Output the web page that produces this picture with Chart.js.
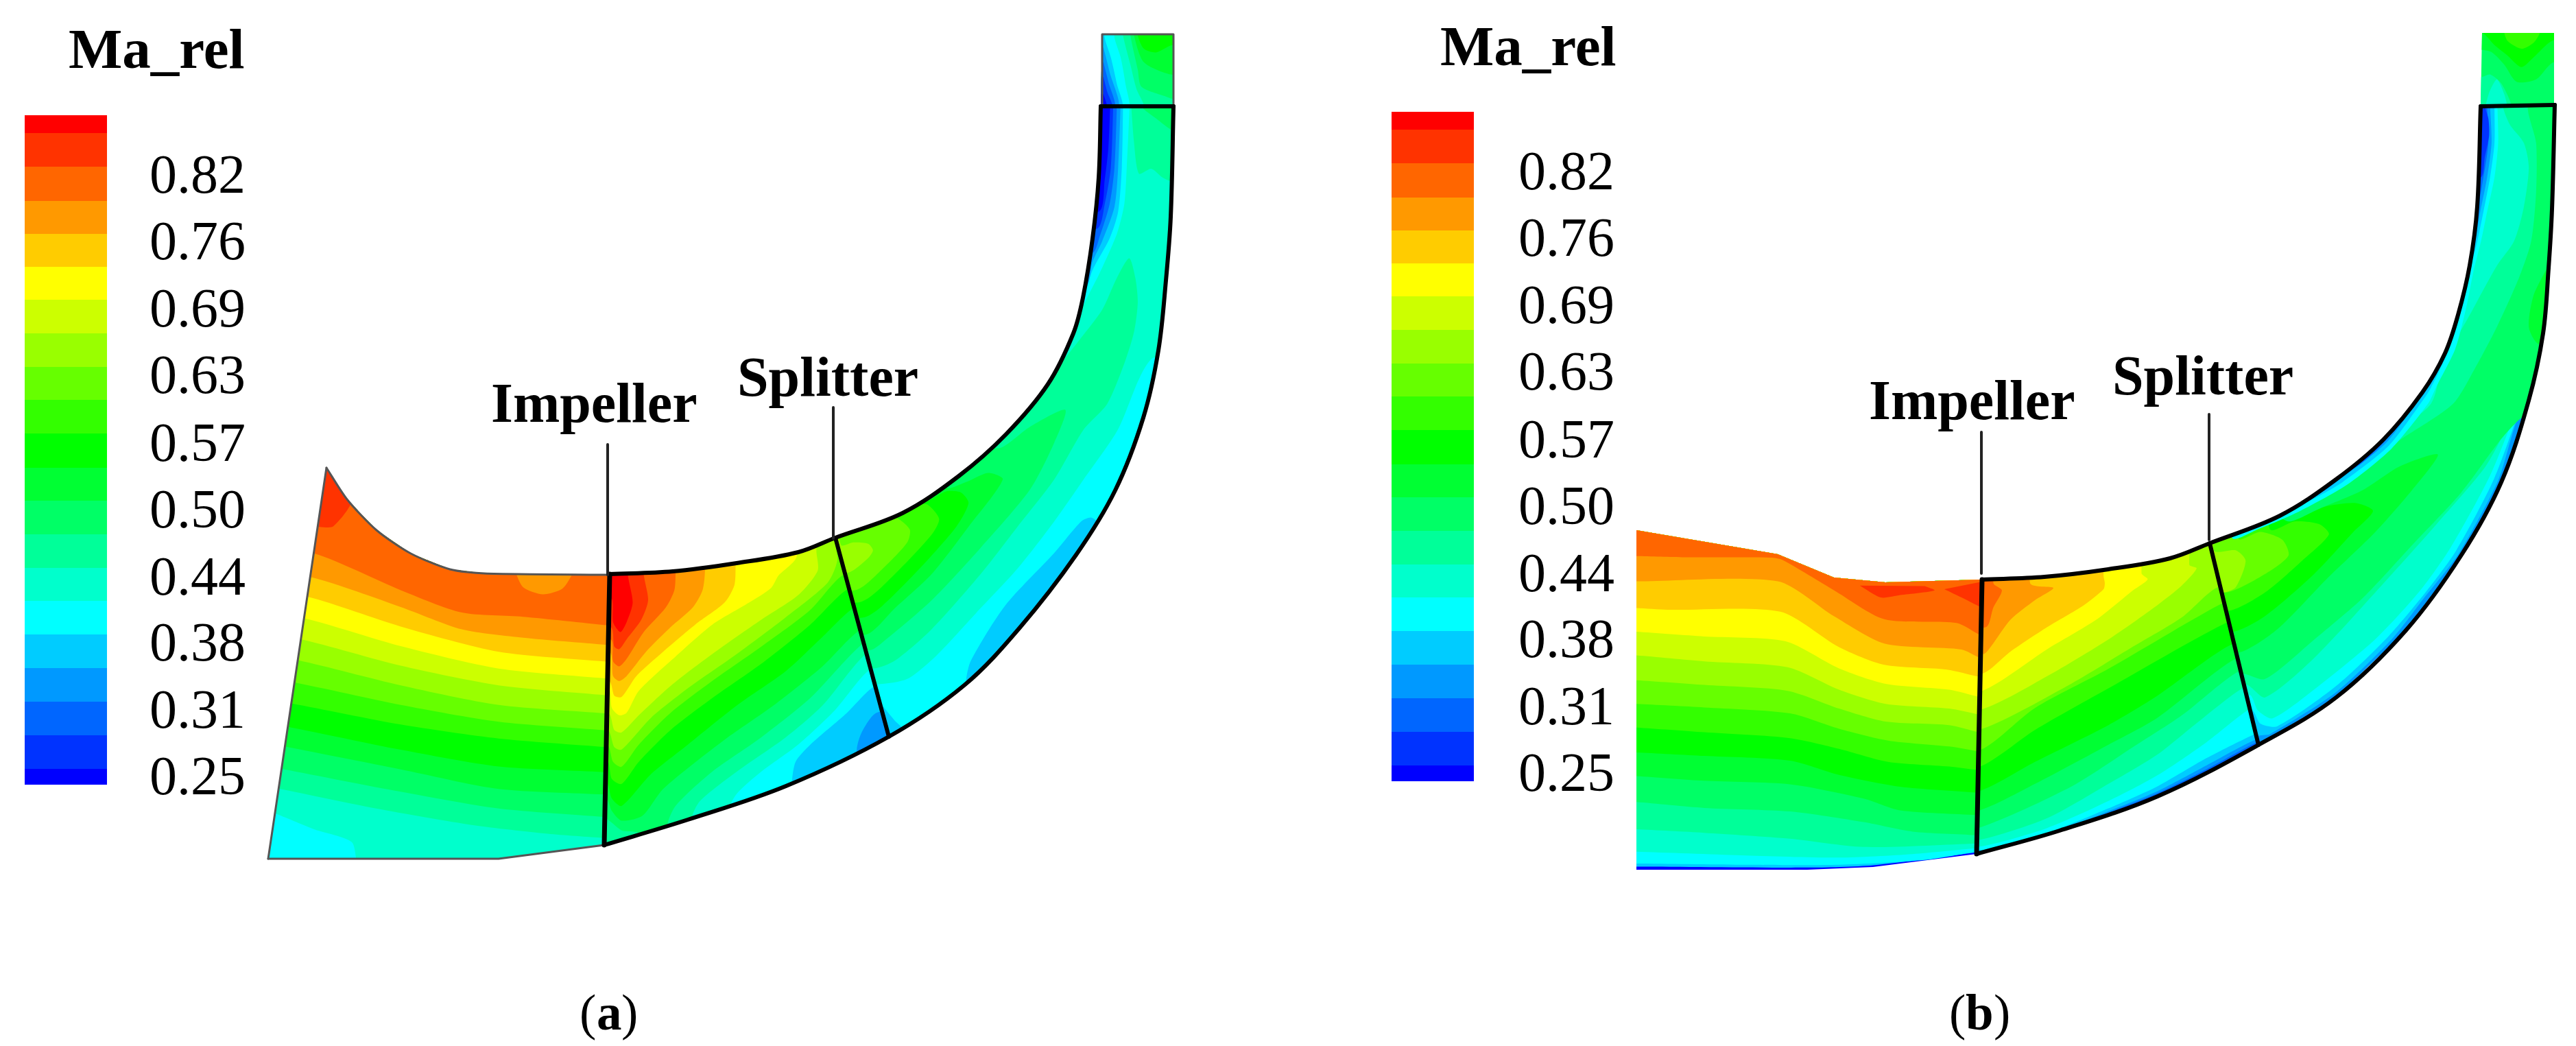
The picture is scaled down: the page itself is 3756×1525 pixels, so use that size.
<!DOCTYPE html>
<html>
<head>
<meta charset="utf-8">
<title>Ma_rel contours</title>
<script src="https://cdn.jsdelivr.net/npm/chart.js@4/dist/chart.umd.js"></script>
<style>
html, body { margin: 0; padding: 0; background: #fff; }
canvas { display: block; }
</style>
</head>
<body>
<canvas id="plot" width="3756" height="1525"></canvas>
<script>
// colour levels of the Ma_rel scale, 0 = blue ... 20 = red
const levels = ["#0000ff","#0033ff","#0066ff","#0099ff","#00ccff","#00ffff","#00ffcc","#00ff99","#00ff66","#00ff33","#00ff00",
    "#33ff00","#66ff00","#99ff00","#ccff00","#ffff00","#ffcc00","#ff9900","#ff6600","#ff3300","#ff0000"];
const tickLabels = ["0.82","0.76","0.69","0.63","0.57","0.50","0.44","0.38","0.31","0.25"];
const tickBaselines = [281,378,476,573,672,769,867,963,1061,1158];
const legendEdges = [168,194,243,293,341,389,437,486,535,583,632,682,730,779,828,876,925,974,1023,1072,1121,1144];

const crops = {
    r: [0,0,1,1],
    z2: [370,640,2.8,2.45],
    z3: [860,700,2.8,2.8],
    z4: [1200,30,2.8,2.8],
    z5: [1180,500,2.8,2.613],
    z6: [2360,740,2.8,2.9],
    z7: [2860,700,2.8,2.8],
    z8: [3180,30,2.8,2.8],
    z9: [3160,500,2.8,2.613],
    nb: [3120,470,2.45,2.45]
};

// geometry of the two meridional sections
const shroudA = [889,837,981,833,1074,821,1164,805,1218,784,1316,748,1398,694,1467,633,1528,560,1565,486,1579,434,1593,348,1602,259,1605,155];
const hubA = [1711,155,1707,316,1700,409,1689,511,1667,609,1626,715,1569,809,1487,915,1406,999,1296,1074,1146,1146,1003,1195,881,1232];
const inletShroudA = [476,682,506,728,549,773,599,807,656,830,706,836,888,838];
const inletHubA = [881,1232,727,1252,391,1252];
const shroudB = [2890,845,2981,841,3074,830,3164,814,3222,792,3324,752,3406,699,3475,641,3532,572,3565,515,3584,459,3601,387,3612,301,3617,155];
const hubB = [3725,153,3721,305,3716,391,3708,486,3687,584,3647,703,3589,809,3508,919,3406,1017,3293,1086,3146,1161,3003,1211,2882,1245];

const inletA = [476,682,506,728,549,773,599,807,656,830,706,836,888,838,881,1232,727,1252,391,1252];
const passageA = [889,837,981,833,1074,821,1164,805,1218,784,1296,1074,1146,1146,1003,1195,881,1232];
const diffuserA = [1218,784,1316,748,1398,694,1467,633,1528,560,1565,486,1579,434,1593,348,1602,259,1605,155,1711,155,1707,316,1700,409,1689,511,1667,609,1626,715,1569,809,1487,915,1406,999,1296,1074];
const outletA = [1607,50,1711,50,1711,155,1605,155];
const inletB = [2386,773,2592,808,2674,842,2749,849,2890,845,2882,1245,2731,1264,2635,1268,2386,1268];
const passageB = [2890,845,2981,841,3074,830,3164,814,3222,792,3293,1086,3146,1161,3003,1211,2882,1245];
const diffuserB = [3222,792,3324,752,3406,699,3475,641,3532,572,3565,515,3584,459,3601,387,3612,301,3617,155,3725,153,3721,305,3716,391,3708,486,3687,584,3647,703,3589,809,3508,919,3406,1017,3293,1086];
const outletB = [3619,48,3724,48,3724,153,3617,155];

// panel a, inlet
const closeInA = ["r",[1100,500,200,500]];
const bandsInletA = [
    [6,"z2",[60,1330,95,1340,250,1395,400,1440,440,1540,1500,1540],...closeInA],
    [7,"z2",[60,1240,110,1250,500,1320,900,1380,1200,1410,1430,1425,1500,1425],...closeInA],
    [8,"z2",[60,1170,125,1180,600,1260,1000,1320,1430,1350,1500,1355],...closeInA],
    [9,"z2",[60,1090,135,1100,600,1180,1000,1250,1430,1270,1500,1275],...closeInA],
    [10,"z2",[60,1020,150,1030,600,1110,1000,1170,1430,1190,1500,1195],...closeInA],
    [11,"z2",[60,935,155,945,600,1020,1000,1070,1430,1100,1500,1105],...closeInA],
    [12,"z2",[60,860,165,870,600,950,1000,1010,1430,1040,1500,1045],...closeInA],
    [13,"z2",[60,780,180,790,600,880,1000,950,1435,980,1500,985],...closeInA],
    [14,"z2",[60,705,190,715,600,810,1000,880,1435,915,1500,920],...closeInA],
    [15,"z2",[60,630,205,640,600,740,1000,820,1435,855,1500,860],...closeInA],
    [16,"z2",[60,555,225,565,600,670,1000,760,1435,795,1500,800],...closeInA],
    [17,"z2",[60,485,240,495,600,600,850,680,1100,710,1435,735,1500,740],...closeInA],
    [18,"z2",[60,400,250,410,600,540,850,620,1100,635,1440,665,1500,670],...closeInA],
    [17,"z2",[1065,470,1100,530,1180,555,1260,535,1310,470]],
    [19,"z2",[250,100,298,90,400,215,325,312,270,314,240,310]]
];

// panel a, impeller to splitter
const tail3 = [1400,-100,-100,-100,-100,1700];
const bandsPassageA = [
    [4,"z3",[1090,1700,1090,1100,1110,1030,1170,950,1400,900,...tail3]],
    [5,"z3",[825,1700,825,1240,840,1150,900,1080,1050,950,1150,850,1400,700,...tail3]],
    [6,"z3",[570,1700,570,1340,600,1280,700,1190,850,1080,1000,940,1135,780,1400,600,...tail3]],
    [7,"z3",[415,1700,415,1385,450,1310,600,1190,800,1050,950,920,1115,720,1400,500,...tail3]],
    [8,"z3",[315,1700,315,1415,350,1330,500,1190,700,1050,900,890,1100,680,1400,450,1400,-100,-100,-100,-100,1380,60,1380,130,1430,205,1445,205,1700]],
    [9,"z3",[-100,1290,62,1290,90,1350,130,1390,215,1370,300,1260,550,1060,750,920,950,760,1085,625,1400,400,1400,-100,-100,-100]],
    [10,"z3",[-100,1230,65,1230,90,1300,130,1330,250,1200,400,1080,600,920,800,780,950,640,1065,530,1400,300,1400,-100,-100,-100]],
    [11,"z3",[-100,1140,68,1140,90,1220,130,1240,200,1150,330,1020,500,890,700,750,900,590,1045,450,1400,250,1400,-100,-100,-100]],
    [12,"z3",[-100,1080,70,1080,95,1150,130,1170,200,1080,330,950,500,820,700,680,900,530,1030,390,1400,200,1400,-100,-100,-100]],
    [13,"z3",[-100,1020,72,1020,100,1090,130,1100,250,970,400,850,600,710,800,560,970,420,1010,330,1000,240,1000,-100,-100,-100]],
    [14,"z3",[-100,950,75,950,100,1020,130,1030,200,960,330,840,500,710,700,570,850,470,930,370,925,290,925,-100,-100,-100]],
    [15,"z3",[-100,850,75,850,90,930,120,960,150,950,200,860,350,720,500,590,650,500,740,440,770,390,845,310,845,-100,-100,-100]],
    [16,"z3",[-100,820,78,820,100,880,130,885,190,800,300,700,430,590,550,500,590,430,595,350,595,-100,-100,-100]],
    [17,"z3",[-100,700,80,700,95,800,120,820,150,800,230,700,330,600,420,520,460,450,470,370,470,-100,-100,-100]],
    [18,"z3",[-100,650,85,650,95,740,120,760,150,730,220,620,310,520,345,450,350,380,350,-100,-100,-100]],
    [19,"z3",[-100,600,85,600,100,680,120,690,150,650,210,570,238,490,220,380,220,-100,-100,-100]],
    [20,"z3",[-100,480,85,480,95,580,125,620,150,580,175,500,155,380,155,-100,-100,-100]]
];

// panel a, splitter to outlet
const bandsDiffuserA = [
    [5,"z5",[280,1360,310,1395,350,1440,380,1470,400,1600,640,1600,640,1290,660,1210,800,1000,1000,800,1110,680,1150,665,1190,690,1500,900,1800,700,1800,-1300,0,-1300,0,1360]],
    [6,"z5",[0,1290,280,1300,400,1280,520,1190,680,1030,850,860,1000,680,1120,520,1260,330,1350,130,1410,55,1800,55,1800,-1300,0,-1300]],
    [7,"z5",[0,1240,265,1240,350,1210,500,1090,700,880,850,700,1000,520,1120,330],"z4",[1160,1565,1230,1400,1270,1270,1285,1150,1275,1050,1250,970,1200,1050,1140,1180,1050,1300,940,1440,850,1565],"z5",[700,250,0,250]],
    [8,"z5",[0,1170,250,1170,300,1140,500,980,700,780,900,560,1000,380,1045,255,900,320,780,400,700,380,700,250,0,250]],
    [9,"z5",[0,1110,235,1110,350,1010,500,880,650,700,790,520,730,495,640,530,560,550,560,300,0,300]],
    [10,"z5",[0,1045,225,1045,300,1000,450,860,600,700,650,610,620,570,560,565,470,600,450,400,0,400]],
    [11,"z5",[0,985,215,985,350,880,500,730,530,670,480,615,420,620,380,640,350,400,0,400]],
    [12,"z5",[0,940,195,940,300,860,400,760,410,710,350,665,280,690,250,500,0,500]],
    [13,"z5",[0,875,160,875,240,820,260,790,240,765,180,760,130,770,100,600,0,600]],
    [7,"z4",[1255,300,1270,500,1290,625,1340,605,1385,640,1430,660,1600,700,1600,300]],
    [8,"z4",[1300,300,1300,350,1360,400,1430,450,1600,500,1600,300]],
    [5,"z4",[1252,300,1252,340,1240,600,1230,750,1200,870,1130,1030,1060,1170,1020,1290,985,1345,800,1345,800,300]],
    [4,"z4",[1225,300,1225,340,1220,600,1205,780,1170,890,1100,1020,1065,1130,1045,1175,800,1175,800,300]],
    [3,"z4",[1215,300,1215,340,1205,600,1190,760,1140,900,1100,985,1072,1085,800,1085,800,300]],
    [2,"z4",[1200,300,1200,340,1190,600,1170,750,1130,880,1098,950,800,950,800,300]],
    [1,"z4",[1185,300,1185,340,1175,600,1150,750,1118,850,800,850,800,300]],
    [0,"z4",[1172,300,1172,355,1165,520,1150,650,1125,780,800,780,800,300]]
];

const bandsOutletA = [
    [7,"z4",[1225,0,1225,60,1255,180,1280,280,1310,345,1310,400,1600,400,1600,0]],
    [8,"z4",[1255,0,1255,60,1285,200,1300,270,1400,310,1430,320,1600,320,1600,0]],
    [9,"z4",[1270,0,1270,60,1310,170,1420,220,1600,230,1600,0]],
    [10,"z4",[1285,0,1285,60,1310,115,1360,130,1425,100,1600,90,1600,0]],
    [5,"z4",[1190,0,1190,70,1215,150,1235,260,1245,360,1000,360,1000,0]],
    [4,"z4",[1150,0,1150,70,1175,150,1200,260,1220,360,1000,360,1000,0]],
    [3,"z4",[1145,110,1170,210,1205,360,1000,360,1000,110]],
    [2,"z4",[1145,170,1165,250,1190,360,1000,360,1000,170]],
    [1,"z4",[1145,230,1160,290,1180,360,1000,360,1000,230]],
    [0,"z4",[1145,300,1160,345,1165,360,1000,360,1000,300]]
];

// panel b, inlet
const closeInB = ["r",[3000,600,2300,600]];
const bandsInletB = [
    [4,"z6",[30,1518,72,1518,770,1522,1040,1512,1460,1458,1500,1450],...closeInB],
    [5,"z6",[30,1505,72,1505,500,1510,900,1510,1250,1490,1460,1455,1500,1450],...closeInB],
    [6,"z6",[30,1455,72,1455,500,1470,900,1480,1200,1465,1460,1440,1500,1435],...closeInB],
    [7,"z6",[30,1360,72,1360,350,1375,700,1400,1000,1435,1460,1420,1500,1415],...closeInB],
    [8,"z6",[30,1245,72,1245,350,1270,700,1285,1000,1330,1200,1370,1460,1385,1500,1390],...closeInB],
    [9,"z6",[30,1135,72,1135,350,1155,700,1170,1000,1230,1150,1280,1460,1300,1500,1305],...closeInB],
    [10,"z6",[30,1035,72,1035,350,1050,700,1070,900,1130,1150,1180,1460,1205,1500,1210],...closeInB],
    [11,"z6",[30,930,72,930,350,950,700,975,900,1020,1100,1075,1350,1095,1465,1110,1500,1115],...closeInB],
    [12,"z6",[30,830,72,830,350,845,700,870,900,935,1100,985,1350,1010,1465,1030,1500,1035],...closeInB],
    [13,"z6",[30,730,72,730,350,750,690,775,900,850,1090,905,1350,920,1470,950,1500,955],...closeInB],
    [14,"z6",[30,625,72,625,350,650,690,675,900,770,1090,830,1350,850,1470,875,1500,880],...closeInB],
    [15,"z6",[30,525,72,525,350,545,680,565,900,680,1090,745,1350,770,1470,800,1500,805],...closeInB],
    [16,"z6",[30,425,72,425,200,432,660,440,900,590,1085,665,1340,685,1470,715,1500,720],...closeInB],
    [17,"z6",[30,312,72,312,650,312,880,460,1085,575,1400,600,1475,635,1500,640],...closeInB],
    [18,"z6",[30,205,72,205,270,210,620,212,670,222,880,350,1085,472,1380,488,1478,540,1500,545],...closeInB],
    [19,"z6",[985,330,1070,380,1150,370,1290,350,1250,332]],
    [19,"z6",[1330,345,1410,385,1478,420,1500,420,1500,310]]
];

// panel b, impeller to splitter
const tail7 = [1400,-100,-100,-100];
const bandsPassageB = [
    [2,"z7",[700,1335,800,1285,1000,1190,1210,1078,1400,1000,1400,-100,-100,-100,-100,1700,700,1700]],
    [3,"z7",[500,1405,600,1358,800,1278,1000,1180,1205,1070,1400,1000,1400,-100,-100,-100,-100,1700,500,1700]],
    [4,"z7",[300,1470,600,1352,800,1270,1000,1165,1200,1060,1400,1000,1400,-100,-100,-100,-100,1700,300,1700]],
    [5,"z7",[90,1510,350,1440,600,1340,800,1250,1000,1135,1190,1040,1400,950,1400,-100,-100,-100,-100,1510]],
    [6,"z7",[-100,1495,80,1495,350,1420,600,1310,800,1205,1000,1070,1160,945,1400,800,...tail7]],
    [7,"z7",[-100,1470,68,1470,350,1380,600,1240,800,1120,950,1000,1130,860,1400,700,...tail7]],
    [8,"z7",[-100,1420,68,1420,450,1250,700,1090,900,960,1115,790,1400,650,...tail7]],
    [9,"z7",[-100,1350,68,1350,300,1240,600,1080,800,970,1100,740,1400,600,...tail7]],
    [10,"z7",[-100,1270,70,1270,300,1150,600,1000,800,880,1085,680,1400,550,...tail7]],
    [11,"z7",[-100,1170,75,1170,300,1020,600,850,1065,590,1400,450,...tail7]],
    [12,"z7",[-100,1100,80,1100,300,930,600,770,1050,510,1400,350,...tail7]],
    [13,"z7",[-100,1015,85,1015,450,830,700,680,900,560,1040,440,1400,300,...tail7]],
    [14,"z7",[-100,935,85,935,350,800,600,650,800,510,900,430,960,360,930,345,930,-100,-100,-100]],
    [15,"z7",[-100,860,85,860,350,690,550,570,700,450,760,405,735,380,735,-100,-100,-100]],
    [16,"z7",[-100,790,85,790,200,700,350,600,500,510,580,445,585,420,580,390,580,-100,-100,-100]],
    [17,"z7",[-100,710,90,710,120,680,200,570,300,490,375,440,280,420,280,-100,-100,-100]],
    [18,"z7",[-100,600,100,600,130,520,165,450,130,420,130,-100,-100,-100]]
];

// panel b, splitter to outlet
const bandsDiffuserB = [
    [4,"z9",[370,1600,370,1500,420,1490],"nb",[700,1322,900,1132,1015,985,1140,825,1280,565,1380,285],"z9",[1650,200,1650,-1300,0,-1300,0,1600]],
    [5,"z9",[0,1400,345,1400,380,1450,450,1460],"nb",[700,1300,880,1130,1020,965,1130,815,1265,560,1365,290,1420,150],"z9",[1650,100,1650,-1300,0,-1300]],
    [6,"z9",[0,1340,335,1340,370,1400,430,1430,600,1320],"nb",[843,1130,1000,960,1110,805,1250,550,1340,330,1390,220,1430,120],"z9",[1650,60,1650,-1300,0,-1300]],
    [7,"z9",[0,1300,320,1300,400,1350,600,1200,850,950,1100,690,1300,470,1400,300,1470,200,1650,150],"z8",[1600,340,1320,340,1340,420,1400,500,1420,600,1400,760,1360,900,1290,1000,1180,1200,1070,1400,1020,1565],"z9",[900,360,750,470,600,570,400,680,250,740,250,400,0,400]],
    [8,"z9",[0,1260,310,1260,400,1280,600,1130,800,970,1000,770,1200,570,1360,370,1440,290,1650,150],"z8",[1600,340,1420,340,1450,500,1450,700,1430,900,1380,1050,1290,1250,1200,1420,1110,1565],"z9",[950,370,800,480,650,570,450,665,300,730,300,400,0,400]],
    [9,"z8",[1500,1000,1440,1120,1420,1250,1460,1320,1600,1320,1600,1000]],
    [9,"z9",[0,1180,290,1180,450,1090,650,900,850,720,1000,560,1105,425,950,470,800,560,650,620,450,690,450,400,0,400]],
    [10,"z9",[0,1100,270,1100,400,1040,600,880,760,720,840,640,770,610,640,625,500,680,440,640,440,400,0,400]],
    [11,"z9",[0,1020,255,1020,400,950,550,830,660,730,620,690,520,680,420,710,380,400,0,400]],
    [12,"z9",[0,950,245,950,400,880,495,810,470,750,380,720,290,745,280,400,0,400]],
    [13,"z9",[0,930,230,950,280,930,320,830,280,790,190,790,190,400,0,400]],
    [5,"z8",[1292,300,1292,345,1295,500,1280,640,1250,780,1225,900,1195,1020,1165,1170,1120,1340,1040,1500],"nb",[1030,290,900,450,740,580,560,680,420,740,330,770,300,500],"z8",[800,300]],
    [4,"z8",[1280,300,1280,345,1280,500,1262,640,1235,780,1210,900,1180,1020,1145,1170,1095,1340,1020,1500],"nb",[1010,280,890,440,725,570,620,630,500,680,500,400],"z8",[800,300]],
    [3,"z8",[1262,300,1262,345,1268,500,1250,640,1222,780,1200,900,1165,1020,1130,1170,1080,1340,1000,1500],"nb",[995,275,880,430,715,560,640,605,600,400],"z8",[800,300]],
    [2,"z8",[1250,300,1250,345,1255,500,1235,640,1210,780,1190,900,1155,1020,1120,1170,1065,1340,985,1500],"nb",[985,270,875,425,750,525,700,400],"z8",[800,300]],
    [1,"z8",[1238,345,1255,400,1258,470,1240,560,1225,640,1100,640,1100,345]]
];

const bandsOutletB = [
    [9,"z8",[1100,120,1228,120,1270,130,1320,180,1370,250,1450,240,1522,170,1700,170,1700,0,1100,0]],
    [10,"z8",[1100,50,1228,50,1280,100,1330,140,1390,190,1440,150,1522,80,1700,80,1700,0,1100,0]],
    [11,"z8",[1320,0,1320,50,1335,85,1390,115,1440,90,1465,50,1465,0]],
    [7,"z8",[1100,230,1228,230,1262,220,1310,260,1345,360,1100,360]],
    [6,"z8",[1240,360,1260,290,1290,240,1320,300,1335,360]]
];

const regions = [
    [inletA,5,bandsInletA],
    [passageA,3,bandsPassageA],
    [diffuserA,4,bandsDiffuserA],
    [outletA,6,bandsOutletA],
    [inletB,0,bandsInletB],
    [passageB,1,bandsPassageB],
    [diffuserB,3,bandsDiffuserB],
    [outletB,8,bandsOutletB]
];

function toPoints(flat, crop){
    let c = crops[crop];
    let pts = [];
    for(let i = 0; i < flat.length; i += 2){
        pts.push({x: c[0] + flat[i] / c[2], y: c[1] + flat[i + 1] / c[3]});
    }
    return pts;
}

function polygon(points, color, outline, tension){
    return {data: points, showLine: true, fill: "shape", backgroundColor: color, borderWidth: 0,
        pointRadius: 0, tension: tension, outline: outline};
}

function stroke(flat, color, width, tension){
    return {data: toPoints(flat, "r"), showLine: true, fill: false, borderColor: color, borderWidth: width,
        pointRadius: 0, tension: tension, borderCapStyle: "round", borderJoinStyle: "round"};
}

let painted = [];

// colour bars, the second one is the first moved over
[[36,156,0],[2029,2149,-5]].forEach(bar =>{
    for(let i = 0; i < levels.length; i++){
        let top = legendEdges[i] + bar[2];
        let bottom = legendEdges[i + 1] + bar[2];
        painted.push(polygon(toPoints([bar[0],top,bar[1],top,bar[1],bottom,bar[0],bottom], "r"), levels[levels.length - 1 - i], null, 0));
    }
});

regions.forEach(region =>{
    let outline = toPoints(region[0], "r");
    painted.push(polygon(outline, levels[region[1]], null, 0));
    region[2].forEach(band =>{
        let pts = [];
        for(let i = 1; i < band.length; i += 2){
            pts = pts.concat(toPoints(band[i + 1], band[i]));
        }
        painted.push(polygon(pts, levels[band[0]], outline, 0.25));
    });
});

// thin edges of panel a outside the blade rows
painted.push(stroke(inletShroudA, "#555", 3, 0.25));
painted.push(stroke(inletHubA, "#555", 3, 0));
painted.push(stroke([476,682,391,1252], "#555", 3, 0));
painted.push(stroke([1607,154,1607,50,1711,50,1711,154], "#555", 3, 0));

// blade row lines
painted.push(stroke(shroudA, "#000", 6, 0.35));
painted.push(stroke(hubA, "#000", 6, 0.35));
painted.push(stroke([1605,155,1711,155], "#000", 6, 0));
painted.push(stroke([889,837,881,1232], "#000", 7, 0));
painted.push(stroke([1218,784,1296,1074], "#000", 6, 0));
painted.push(stroke(shroudB, "#000", 6, 0.35));
painted.push(stroke(hubB, "#000", 6, 0.35));
painted.push(stroke([3617,155,3725,153], "#000", 6, 0));
painted.push(stroke([2890,845,2882,1245], "#000", 7, 0));
painted.push(stroke([3222,792,3293,1086], "#000", 6, 0));

// leader lines
painted.push(stroke([886,648,886,838], "#222", 4, 0));
painted.push(stroke([1215,594,1215,785], "#222", 4, 0));
painted.push(stroke([2889,630,2889,836], "#222", 4, 0));
painted.push(stroke([3221,604,3221,787], "#222", 4, 0));

// labels: text, left edge, baseline, weight, size
const captions = [
    ["Ma_rel",100,99,"bold",83],["Ma_rel",2100,95,"bold",83],
    ["Impeller",716,615,"bold",82],["Splitter",1075,577,"bold",82],
    ["Impeller",2725,611,"bold",82],["Splitter",3080,575,"bold",82],
    ["(",845,1501,"normal",73],["a",870,1501,"bold",73],[")",906,1501,"normal",73],
    ["(",2842,1501,"normal",73],["b",2866,1501,"bold",73],[")",2907,1501,"normal",73]
];

let clipToOutline = {
    id: "clipToOutline",
    beforeDatasetDraw(chart, args){
        let outline = chart.data.datasets[args.index].outline;
        if(!outline){
            return;
        }
        let ctx = chart.ctx;
        ctx.save();
        ctx.beginPath();
        outline.forEach((p, i) =>{
            let x = chart.scales.x.getPixelForValue(p.x);
            let y = chart.scales.y.getPixelForValue(p.y);
            if(i === 0){
                ctx.moveTo(x, y);
            }else{
                ctx.lineTo(x, y);
            }
        });
        ctx.closePath();
        ctx.clip();
    },
    afterDatasetDraw(chart, args){
        if(chart.data.datasets[args.index].outline){
            chart.ctx.restore();
        }
    }
};

let texts = {
    id: "texts",
    afterDatasetsDraw(chart){
        let ctx = chart.ctx;
        let sx = chart.scales.x;
        let sy = chart.scales.y;
        ctx.save();
        ctx.fillStyle = "#000";
        ctx.textAlign = "left";
        ctx.textBaseline = "alphabetic";
        captions.forEach(c =>{
            ctx.font = c[3] + " " + c[4] + "px 'Liberation Serif'";
            ctx.fillText(c[0], sx.getPixelForValue(c[1]), sy.getPixelForValue(c[2]));
        });
        ctx.font = "80px 'Liberation Serif'";
        tickLabels.forEach((t, i) =>{
            ctx.fillText(t, sx.getPixelForValue(218), sy.getPixelForValue(tickBaselines[i]));
            ctx.fillText(t, sx.getPixelForValue(2214), sy.getPixelForValue(tickBaselines[i] - 5));
        });
        ctx.restore();
    }
};

// the clip has to run before the filler does, so the filler goes back in after it
Chart.unregister(Chart.Filler);
Chart.register(clipToOutline);
Chart.register(Chart.Filler);

// Chart.js paints the first dataset last
new Chart(document.getElementById("plot"), {
    type: "scatter",
    data: {datasets: painted.reverse()},
    options: {
        responsive: false,
        animation: false,
        layout: {padding: 0},
        plugins: {legend: {display: false}, tooltip: {enabled: false}},
        scales: {
            x: {type: "linear", min: 0, max: 3756, display: false},
            y: {type: "linear", min: 0, max: 1525, reverse: true, display: false}
        }
    },
    plugins: [texts]
});
</script>
</body>
</html>
